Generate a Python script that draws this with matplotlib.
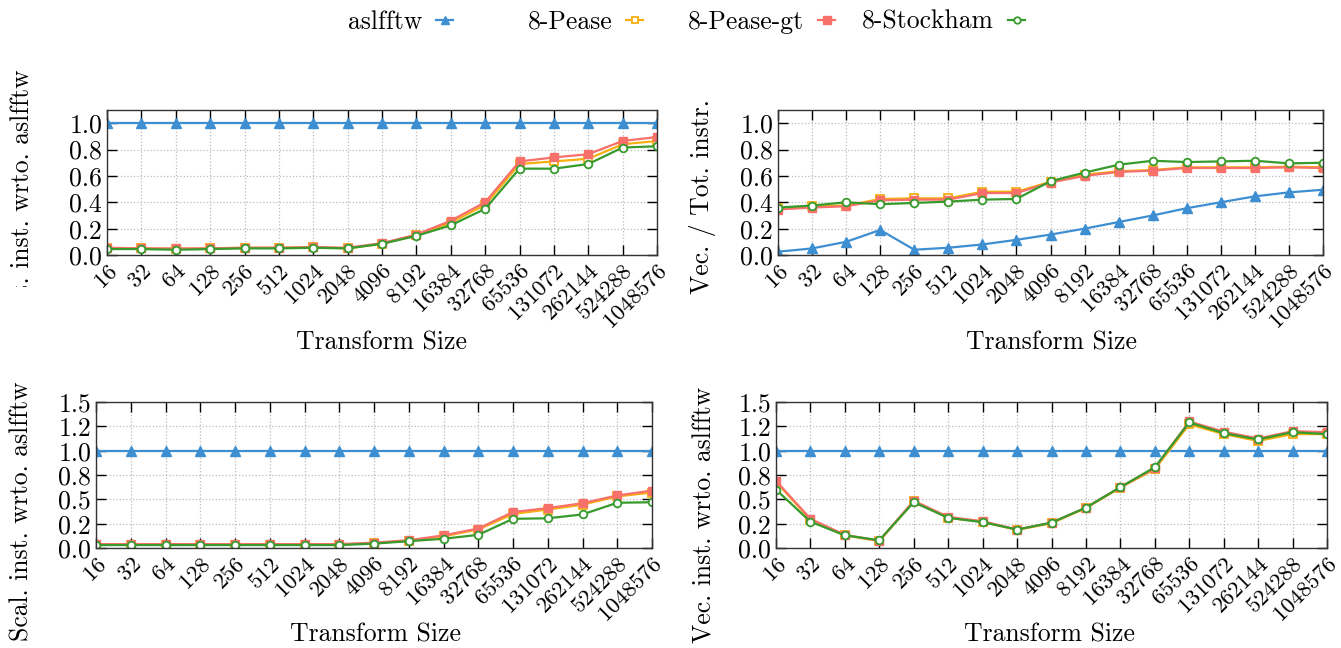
import numpy as np
import matplotlib
matplotlib.use("Agg")
import matplotlib.pyplot as plt
from matplotlib.patches import Rectangle
from matplotlib.ticker import FormatStrFormatter

plt.rcParams['font.family'] = 'serif'
plt.rcParams['font.serif'] = ['cmr10', 'DejaVu Serif']
plt.rcParams['axes.formatter.use_mathtext'] = True

# ---------------------------------------------------
sizes = ["16", "32", "64", "128", "256", "512", "1024", "2048", "4096", "8192",
         "16384", "32768", "65536", "131072", "262144", "524288", "1048576"]
series = ["aslfftw", "8-Pease", "8-Pease-gt", "8-Stockham"]

# total instructions wrto. aslfftw
tot_aslfftw = [1.0, 1.0, 1.0, 1.0, 1.0, 1.0, 1.0, 1.0, 1.0, 1.0, 1.0, 1.0, 1.0, 1.0, 1.0, 1.0, 1.0]
tot_pease = [0.05, 0.05, 0.045, 0.05, 0.055, 0.055, 0.06, 0.05, 0.085, 0.15, 0.245, 0.38, 0.69, 0.71, 0.73, 0.84, 0.865]
tot_pease_gt = [0.055, 0.05, 0.05, 0.05, 0.055, 0.055, 0.06, 0.055, 0.09, 0.155, 0.26, 0.40, 0.71, 0.74, 0.765, 0.865, 0.895]
tot_stockham = [0.045, 0.045, 0.04, 0.045, 0.05, 0.05, 0.055, 0.05, 0.085, 0.145, 0.225, 0.35, 0.655, 0.655, 0.69, 0.815, 0.825]

# vector / total instructions
ratio_aslfftw = [0.025, 0.05, 0.10, 0.19, 0.04, 0.055, 0.08, 0.115, 0.155, 0.20, 0.25, 0.30, 0.355, 0.40, 0.445, 0.475, 0.495]
ratio_pease = [0.355, 0.37, 0.375, 0.425, 0.43, 0.43, 0.48, 0.48, 0.555, 0.61, 0.635, 0.645, 0.665, 0.665, 0.665, 0.67, 0.665]
ratio_pease_gt = [0.345, 0.36, 0.37, 0.415, 0.42, 0.42, 0.47, 0.47, 0.55, 0.60, 0.63, 0.64, 0.66, 0.66, 0.66, 0.665, 0.66]
ratio_stockham = [0.36, 0.375, 0.40, 0.385, 0.395, 0.405, 0.42, 0.425, 0.56, 0.625, 0.685, 0.715, 0.705, 0.71, 0.715, 0.695, 0.70]

# scalar instructions wrto. aslfftw
scal_aslfftw = [1.0, 1.0, 1.0, 1.0, 1.0, 1.0, 1.0, 1.0, 1.0, 1.0, 1.0, 1.0, 1.0, 1.0, 1.0, 1.0, 1.0]
scal_pease = [0.035, 0.035, 0.035, 0.035, 0.035, 0.035, 0.035, 0.035, 0.05, 0.075, 0.12, 0.19, 0.35, 0.395, 0.445, 0.53, 0.57]
scal_pease_gt = [0.04, 0.04, 0.04, 0.04, 0.04, 0.04, 0.04, 0.04, 0.055, 0.08, 0.13, 0.20, 0.37, 0.41, 0.46, 0.54, 0.59]
scal_stockham = [0.03, 0.03, 0.03, 0.03, 0.03, 0.03, 0.03, 0.03, 0.045, 0.07, 0.095, 0.135, 0.30, 0.305, 0.345, 0.465, 0.47]

# vector instructions wrto. aslfftw
vec_aslfftw = [1.0, 1.0, 1.0, 1.0, 1.0, 1.0, 1.0, 1.0, 1.0, 1.0, 1.0, 1.0, 1.0, 1.0, 1.0, 1.0, 1.0]
vec_pease = [0.68, 0.29, 0.13, 0.07, 0.48, 0.31, 0.27, 0.185, 0.255, 0.41, 0.62, 0.81, 1.27, 1.17, 1.10, 1.17, 1.17]
vec_pease_gt = [0.69, 0.30, 0.135, 0.075, 0.485, 0.32, 0.275, 0.19, 0.26, 0.415, 0.625, 0.82, 1.30, 1.195, 1.125, 1.20, 1.19]
vec_stockham = [0.60, 0.27, 0.13, 0.08, 0.47, 0.31, 0.265, 0.19, 0.26, 0.415, 0.625, 0.83, 1.29, 1.18, 1.115, 1.19, 1.17]
# ---------------------------------------------------

colors = ['#3d8fd1', '#f5b010', '#f7706a', '#379a2c']
markers = [dict(marker='^', ms=7, mfc=colors[0], mec=colors[0]),
           dict(marker='s', ms=5.5, mfc='white', mec=colors[1], mew=1.3),
           dict(marker='s', ms=6, mfc=colors[2], mec=colors[2]),
           dict(marker='o', ms=5.5, mfc='white', mec=colors[3], mew=1.3)]

W, H = 1341, 648
fig = plt.figure(figsize=(W / 100, H / 100), dpi=100)


def px_axes(left, right, top, bottom):
    return fig.add_axes([left / W, 1 - bottom / H, (right - left) / W, (bottom - top) / H])


panels = [
    (px_axes(107, 657, 110, 255), [tot_aslfftw, tot_pease, tot_pease_gt, tot_stockham],
     "Tot. inst. wrto. aslfftw", 1.1, 0.2, (22, 197), (381, 343)),
    (px_axes(778, 1323, 110, 255), [ratio_aslfftw, ratio_pease, ratio_pease_gt, ratio_stockham],
     "Vec. / Tot. instr.", 1.1, 0.2, (703, 197), (1051, 343)),
    (px_axes(96, 652, 402, 548), [scal_aslfftw, scal_pease, scal_pease_gt, scal_stockham],
     "Scal. inst. wrto. aslfftw", 1.5, 0.25, (22, 511), (375, 635)),
    (px_axes(776, 1327, 402, 548), [vec_aslfftw, vec_pease, vec_pease_gt, vec_stockham],
     "Vec. inst. wrto. aslfftw", 1.5, 0.25, (705, 515), (1050, 635)),
]

x = np.arange(len(sizes))
for i, (ax, data, ylabel, ymax, ystep, ylpos, xlpos) in enumerate(panels):
    for k, vals in enumerate(data):
        ax.plot(x, vals, color=colors[k], lw=1.6, label=series[k], **markers[k])
    ax.set_xlim(0, len(sizes) - 1)
    ax.set_ylim(0, ymax)
    ax.set_xticks(x)
    ax.set_xticklabels(sizes, rotation=45, ha='right', rotation_mode='anchor', fontsize=16.5)
    ax.set_yticks(np.arange(0, ymax + 1e-9, ystep))
    ax.yaxis.set_major_formatter(FormatStrFormatter('%.1f'))
    ax.tick_params(direction='in', top=True, right=True, length=7, width=1, labelsize=18.5)
    ax.tick_params(axis='x', labelsize=16.5, pad=4)
    ax.grid(True, linestyle=':', color='#bbbbbb', lw=0.9)
    for sp in ax.spines.values():
        sp.set_linewidth(1.0)
        sp.set_color('#333333')
    ax.set_xlabel("Transform Size", fontsize=18.5)
    ax.xaxis.set_label_coords(xlpos[0] / W, 1 - xlpos[1] / H, transform=fig.transFigure)
    ax.xaxis.label.set_va('center')
    ax.set_ylabel(ylabel, fontsize=18.5)
    ax.yaxis.set_label_coords(ylpos[0] / W, 1 - ylpos[1] / H, transform=fig.transFigure)
    ax.yaxis.label.set_va('center')
    if i == 0:
        # the first panel's label is cut off at the bottom in the original
        clip = Rectangle((0, 1 - 287 / H), 0.2, 287 / H, transform=fig.transFigure)
        ax.yaxis.label.set_clip_path(clip)

# gnuplot-style key: fixed-width columns, text right-aligned before the sample
handles, labels = panels[0][0].get_legend_handles_labels()
key_right = [453, 643, 835, 1025]
for h, lab, xr in zip(handles, labels, key_right):
    fig.legend([h], [lab], loc='center right', bbox_to_anchor=(xr / W, 1 - 22 / H),
               frameon=False, markerfirst=False, handlelength=0.65, handletextpad=0.55,
               borderpad=0, borderaxespad=0, markerscale=0.85, fontsize=18.5)

fig.savefig("out.png", dpi=100)
